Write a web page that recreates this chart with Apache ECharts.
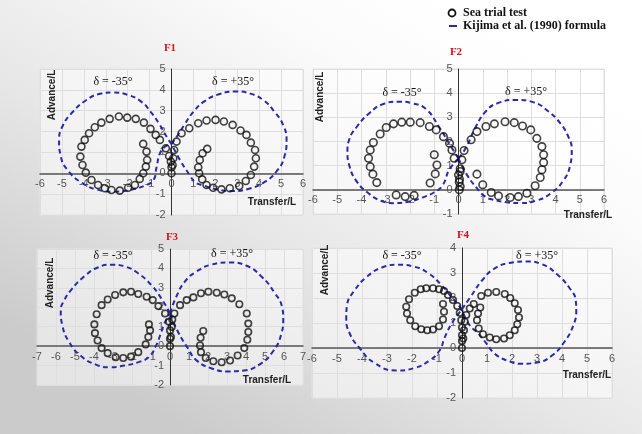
<!DOCTYPE html>
<html><head><meta charset="utf-8">
<script src="https://cdn.jsdelivr.net/npm/echarts@6/dist/echarts.min.js"></script>
<style>html,body{margin:0;padding:0;}#c{width:642px;height:434px;}</style>
</head><body><div id="c"></div>
<script>
// ---- Data (Transfer/L, Advance/L) ----
const f1SeaNeg = [[0,0],[0,0.29],[-0.03,0.56],[-0.11,0.83],[-0.26,1.2],[-0.53,1.6],[-0.72,1.84],[-0.96,2.13],[-1.26,2.43],[-1.63,2.61],[-2.02,2.67],[-2.40,2.72],[-2.82,2.61],[-3.20,2.43],[-3.50,2.21],[-3.76,1.92],[-3.96,1.6],[-4.11,1.28],[-4.16,0.8],[-4.06,0.4],[-3.91,0.03],[-3.65,-0.32],[-3.35,-0.56],[-3.04,-0.72],[-2.74,-0.8],[-2.36,-0.83],[-1.98,-0.69],[-1.67,-0.56],[-1.45,-0.27],[-1.29,0],[-1.17,0.32],[-1.11,0.64],[-1.14,1.04],[-1.29,1.41]];
const f1SeaPos = [[0.05,0.4],[0.08,0.72],[0.12,1.12],[0.23,1.52],[0.46,1.92],[0.81,2.16],[1.22,2.4],[1.60,2.53],[2.01,2.56],[2.39,2.48],[2.79,2.32],[3.15,2.05],[3.42,1.84],[3.62,1.47],[3.81,1.12],[3.85,0.72],[3.77,0.32],[3.62,-0.08],[3.39,-0.37],[3.09,-0.61],[2.66,-0.72],[2.28,-0.77],[1.90,-0.69],[1.60,-0.56],[1.40,-0.29],[1.26,0],[1.22,0.29],[1.29,0.64],[1.42,0.96],[1.63,1.17]];
const f1KijNeg = [[0,1.4],[-0.22,1.75],[-0.55,2.35],[-0.95,2.95],[-1.4,3.45],[-2.0,3.76],[-2.66,3.87],[-3.3,3.8],[-3.9,3.5],[-4.5,2.95],[-4.95,2.3],[-5.13,1.6],[-5.05,0.8],[-4.7,0.1],[-4.1,-0.45],[-3.4,-0.78],[-2.6,-0.88],[-1.8,-0.78],[-1.2,-0.58],[-0.83,-0.34],[-0.68,0.3],[-0.53,0.95],[-0.3,1.27],[0,1.4]];
const f1KijPos = [[0,1.4],[0.3,1.85],[0.6,2.35],[1.0,2.95],[1.5,3.45],[2.2,3.8],[2.95,3.92],[3.6,3.82],[4.2,3.5],[4.7,2.95],[5.1,2.3],[5.25,1.6],[5.15,0.8],[4.8,0.1],[4.2,-0.45],[3.5,-0.75],[2.8,-0.85],[2.1,-0.78],[1.5,-0.6],[1.07,-0.42],[0.84,-0.1],[0.39,0.63],[0,1.4]];

const f2SeaNeg = [[0.03,0],[0.03,0.32],[0,0.62],[0.07,0.87],[-0.18,1.31],[-0.27,1.65],[-0.37,1.93],[-0.62,2.2],[-0.92,2.48],[-1.2,2.62],[-1.58,2.78],[-1.99,2.8],[-2.34,2.8],[-2.68,2.73],[-2.98,2.58],[-3.23,2.31],[-3.51,1.96],[-3.64,1.65],[-3.71,1.31],[-3.64,0.96],[-3.53,0.65],[-3.37,0.3],[-2.57,-0.21],[-2.2,-0.28],[-1.83,-0.23],[-1.17,0.28],[-0.96,0.66],[-0.89,1.03],[-1.0,1.45]];
const f2SeaPos = [[0.07,0.14],[0.04,0.44],[0.07,0.76],[0.14,1.24],[0.23,1.63],[0.52,2.07],[0.76,2.41],[1.13,2.62],[1.48,2.73],[1.92,2.82],[2.3,2.78],[2.64,2.64],[2.98,2.48],[3.23,2.13],[3.44,1.79],[3.51,1.45],[3.51,1.13],[3.44,0.83],[3.37,0.51],[3.16,0.17],[2.82,-0.14],[2.47,-0.28],[2.13,-0.32],[1.65,-0.25],[1.35,-0.11],[1.0,0.21],[0.76,0.65]];
const f2KijNeg = [[0,1.3],[-0.31,1.79],[-0.8,2.6],[-1.35,3.35],[-1.9,3.58],[-2.47,3.65],[-3.1,3.55],[-3.7,3.15],[-4.2,2.6],[-4.5,2.1],[-4.58,1.6],[-4.5,1.0],[-4.2,0.35],[-3.7,-0.15],[-3.2,-0.45],[-2.68,-0.55],[-2.1,-0.5],[-1.5,-0.32],[-1.0,-0.1],[-0.65,0.2],[-0.38,0.83],[0,1.3]];
const f2KijPos = [[0,1.3],[0.31,1.75],[0.72,2.62],[1.13,3.25],[1.6,3.58],[2.41,3.72],[3.1,3.62],[3.7,3.25],[4.2,2.75],[4.55,2.15],[4.67,1.65],[4.6,1.0],[4.3,0.35],[3.8,-0.15],[3.2,-0.45],[2.54,-0.55],[1.9,-0.5],[1.4,-0.4],[1.1,-0.28],[0.76,0.07],[0.35,0.62],[0,1.3]];

const f3SeaNeg = [[0,0],[0,0.38],[0,0.81],[-0.05,1.25],[-0.26,1.68],[-0.61,2.06],[-0.91,2.37],[-1.23,2.54],[-1.67,2.68],[-2.05,2.8],[-2.46,2.77],[-2.89,2.63],[-3.28,2.4],[-3.6,2.11],[-3.86,1.64],[-3.98,1.12],[-3.95,0.67],[-3.81,0.29],[-3.6,-0.1],[-3.28,-0.36],[-2.86,-0.57],[-2.46,-0.61],[-2.05,-0.54],[-1.67,-0.31],[-1.28,0.09],[-1.14,0.47],[-1.05,0.81],[-1.11,1.12]];
const f3SeaPos = [[0.05,0.47],[0.09,0.99],[0.12,1.37],[0.23,1.68],[0.53,2.11],[0.88,2.37],[1.23,2.51],[1.63,2.72],[2.02,2.8],[2.46,2.75],[2.86,2.66],[3.25,2.46],[3.65,2.16],[4.04,1.68],[4.12,1.16],[4.12,0.73],[4.07,0.33],[3.91,-0.1],[3.56,-0.48],[3.16,-0.74],[2.72,-0.83],[2.28,-0.78],[1.88,-0.61],[1.63,-0.31],[1.58,0.03],[1.61,0.43],[1.75,0.78]];
const f3KijNeg = [[0,1.7],[-0.46,2.46],[-0.98,3.14],[-1.68,3.75],[-2.3,4.08],[-3.07,4.19],[-3.8,4.05],[-4.5,3.6],[-5.2,2.9],[-5.6,2.3],[-5.75,1.85],[-5.65,1.0],[-5.3,0.2],[-4.7,-0.5],[-3.9,-0.95],[-3.16,-1.09],[-2.4,-1.0],[-1.65,-0.82],[-1.1,-0.55],[-0.75,0.0],[-0.5,0.6],[-0.3,1.15],[0,1.7]];
const f3KijPos = [[0,1.7],[0.33,2.54],[0.77,3.31],[1.38,3.83],[2.2,4.2],[3.16,4.31],[4.0,4.15],[4.8,3.6],[5.5,2.75],[5.9,2.0],[5.96,1.42],[5.85,0.6],[5.4,-0.3],[4.7,-0.95],[3.9,-1.25],[3.07,-1.3],[2.2,-1.15],[1.38,-0.72],[0.95,-0.12],[0.42,0.74],[0,1.7]];

const f4SeaNeg = [[0,0],[0,0.28],[0,0.51],[0,0.82],[-0.03,1.11],[-0.09,1.41],[-0.19,1.68],[-0.36,1.92],[-0.56,2.12],[-0.72,2.28],[-0.92,2.35],[-1.16,2.39],[-1.43,2.39],[-1.65,2.35],[-1.89,2.21],[-2.12,1.95],[-2.23,1.65],[-2.2,1.38],[-2.07,1.11],[-1.87,0.87],[-1.63,0.75],[-1.39,0.71],[-1.16,0.74],[-0.92,0.87],[-0.76,1.14],[-0.72,1.45],[-0.76,1.76]];
const f4SeaPos = [[0.05,0.38],[0.08,0.71],[0.11,1.05],[0.17,1.32],[0.31,1.58],[0.47,1.76],[0.77,2.08],[1.04,2.21],[1.37,2.24],[1.71,2.16],[1.93,2.0],[2.11,1.79],[2.24,1.52],[2.28,1.22],[2.21,0.95],[2.11,0.71],[1.91,0.51],[1.68,0.38],[1.37,0.35],[1.11,0.42],[0.84,0.55],[0.67,0.78],[0.6,1.11],[0.64,1.38],[0.73,1.62]];
const f4KijNeg = [[0,1.55],[-0.46,2.09],[-0.86,2.56],[-1.33,2.98],[-1.9,3.25],[-2.56,3.33],[-3.2,3.22],[-3.8,2.85],[-4.3,2.3],[-4.6,1.7],[-4.63,1.2],[-4.5,0.6],[-4.1,0.0],[-3.5,-0.6],[-2.63,-0.9],[-1.9,-0.8],[-1.3,-0.5],[-0.89,-0.09],[-0.7,0.4],[-0.4,1.0],[0,1.55]];
const f4KijPos = [[0,1.55],[0.33,2.03],[0.8,2.7],[1.27,3.16],[1.9,3.4],[2.57,3.46],[3.2,3.35],[3.8,2.95],[4.3,2.4],[4.55,1.9],[4.57,1.5],[4.45,0.9],[4.1,0.25],[3.6,-0.3],[3.0,-0.58],[2.37,-0.63],[1.8,-0.5],[1.31,-0.23],[1.0,0.15],[0.67,0.56],[0.27,0.96],[0,1.55]];

const panelTitles = ['F1','F2','F3','F4'];
const xRanges = [[-6,6],[-6,6],[-7,7],[-6,6]];
const yRanges = [[-2,5],[-1,5],[-2,5],[-2,4]];
const legendNames = ['Sea trial test','Kijima et al. (1990) formula'];
const deltaLabels = ['\u03b4 = -35\u00b0','\u03b4 = +35\u00b0'];
const axisNames = ['Transfer/L','Advance/L'];

// ---- layout / styles ----
const grids = [
  {left:40, top:69, width:263, height:146},
  {left:313, top:69, width:291, height:145},
  {left:37, top:249, width:266, height:136},
  {left:312, top:248, width:300, height:150}
];
const sym = [7,7.5,6.5,6.5];
const seaSets = [[f1SeaNeg,f1SeaPos],[f2SeaNeg,f2SeaPos],[f3SeaNeg,f3SeaPos],[f4SeaNeg,f4SeaPos]];
const kijSets = [[f1KijNeg,f1KijPos],[f2KijNeg,f2KijPos],[f3KijNeg,f3KijPos],[f4KijNeg,f4KijPos]];

const titlePos = [[170,48],[456,52],[172,237],[463,235]];
const deltaPos = [[[113,82],[233,82]],[[402,93],[526,92]],[[113,256],[232,254]],[[402,256],[537,256]]];
const xNamePos = [[272,202],[588,215],[267,380],[587,375]];
const yNamePos = [[52,95],[320,97],[50,283],[325,270]];

const labelFont = 'Liberation Sans Narrow, Liberation Sans, Arial';
const xAxis = [], yAxis = [], series = [];
grids.forEach((g,i)=>{
  g.show = true; g.backgroundColor = 'rgba(255,255,255,0.5)'; g.borderColor = '#e3e3e3'; g.borderWidth = 1;
  const [x0,x1] = xRanges[i], [y0,y1] = yRanges[i];
  // place the axes (line + labels) through zero of the other axis
  const xOff = -(0 - y0)/(y1 - y0)*g.height;
  const yOff = -(0 - x0)/(x1 - x0)*g.width;
  xAxis.push({type:'value', gridIndex:i, min:x0, max:x1, interval:1, position:'bottom', offset:xOff,
    axisLine:{show:true, onZero:false, lineStyle:{color:'#555', width:1.5}},
    axisTick:{show:false},
    axisLabel:{color:'#555', fontSize:11, fontFamily:labelFont, margin:5},
    splitLine:{show:true, lineStyle:{color:'#dedede', width:1}}});
  yAxis.push({type:'value', gridIndex:i, min:y0, max:y1, interval:1, position:'left', offset:yOff,
    axisLine:{show:true, onZero:false, lineStyle:{color:'#333', width:1}},
    axisTick:{show:false},
    axisLabel:{color:'#555', fontSize:11, fontFamily:labelFont, margin:6},
    splitLine:{show:true, lineStyle:{color:'#dedede', width:1}}});
  kijSets[i].forEach(d=>series.push({type:'line', name:legendNames[1], xAxisIndex:i, yAxisIndex:i, data:d,
    smooth:0.5, symbol:'none', z:2,
    lineStyle:{color:'#2a2aa8', width:2, type:[5,3.5]}}));
  seaSets[i].forEach(d=>series.push({type:'scatter', name:legendNames[0], xAxisIndex:i, yAxisIndex:i, data:d,
    symbol:'circle', symbolSize:sym[i], z:3,
    itemStyle:{color:'rgba(0,0,0,0)', borderColor:'#111', borderWidth:1.6}}));
});

const graphic = [];
const txt = (x,y,text,font,fill,extra)=>Object.assign({type:'text', x:x, y:y, z:10,
  style:{text:text, font:font, fill:fill, textAlign:'center', textVerticalAlign:'middle'}}, extra||{});
panelTitles.forEach((t,i)=>{
  graphic.push(txt(titlePos[i][0], titlePos[i][1], t, 'bold 11px "Liberation Serif", serif', '#d0121b'));
  deltaPos[i].forEach((p,k)=>graphic.push(txt(p[0],p[1],deltaLabels[k],'12px "Liberation Serif", serif','#111')));
  graphic.push(txt(xNamePos[i][0], xNamePos[i][1], axisNames[0], 'bold 10px "Liberation Sans", Arial', '#222'));
  graphic.push(txt(yNamePos[i][0], yNamePos[i][1], axisNames[1], 'bold 10px "Liberation Sans", Arial', '#222', {rotation:Math.PI/2}));
});
// legend
graphic.push({type:'circle', shape:{cx:452, cy:13, r:3.5}, style:{fill:'none', stroke:'#111', lineWidth:1.8}, z:10});
graphic.push({type:'line', shape:{x1:449, y1:26, x2:457, y2:26}, style:{stroke:'#2a2aa8', lineWidth:2}, z:10});
graphic.push({type:'text', x:463, y:13, z:10, style:{text:legendNames[0], font:'bold 12px "Liberation Serif", serif', fill:'#111', textVerticalAlign:'middle'}});
graphic.push({type:'text', x:463, y:26, z:10, style:{text:legendNames[1], font:'bold 12px "Liberation Serif", serif', fill:'#111', textVerticalAlign:'middle'}});

const chart = echarts.init(document.getElementById('c'));
chart.setOption({
  animation:false,
  backgroundColor:{type:'linear', x:0.7, y:0, x2:0.3, y2:1, colorStops:[
    {offset:0, color:'#ffffff'},{offset:0.2, color:'#fbfbfb'},{offset:0.6, color:'#e6e6e6'},{offset:1, color:'#cbcbcb'}]},
  grid:grids, xAxis:xAxis, yAxis:yAxis, series:series, graphic:graphic
});
</script></body></html>
